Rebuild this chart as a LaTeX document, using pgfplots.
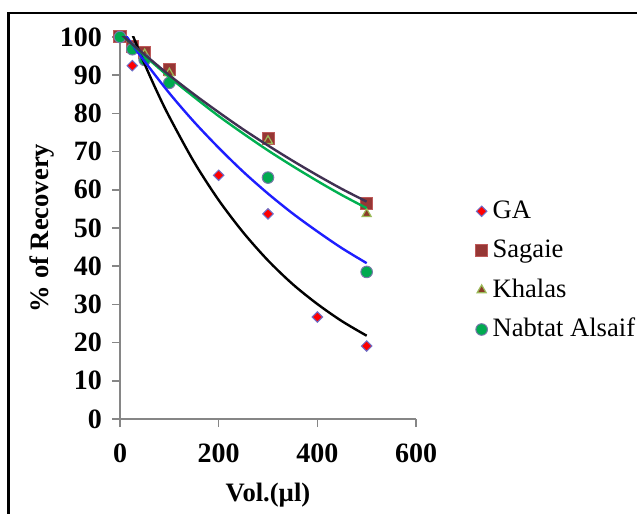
\documentclass[border=0pt]{standalone}
\usepackage{fontspec}
\setmainfont{Liberation Serif}
\usepackage{pgfplots}
\pgfplotsset{compat=1.18}

\definecolor{gared}{RGB}{255,0,0}
\definecolor{gaedge}{RGB}{110,110,200}
\definecolor{sagfill}{RGB}{150,55,53}
\definecolor{sagedge}{RGB}{190,90,90}
\definecolor{khafill}{RGB}{140,60,40}
\definecolor{khaedge}{RGB}{155,187,89}
\definecolor{nabfill}{RGB}{0,170,80}
\definecolor{nabedge}{RGB}{120,120,170}
\definecolor{trblue}{RGB}{30,30,255}
\definecolor{trgreen}{RGB}{0,176,80}
\definecolor{trdark}{RGB}{64,49,82}
\definecolor{axgray}{RGB}{134,134,134}

\begin{document}
\begin{tikzpicture}[font=\fontsize{13.3bp}{15bp}\selectfont]
% page: 637x514 px, 1px = 0.5bp, axis corner at the origin
\useasboundingbox (-60bp,-47.5bp) rectangle (258.5bp,209.5bp);
\draw[line width=1.3bp] (-55.65bp,-60bp) -- (-55.65bp,203bp) -- (270bp,203bp);
\begin{axis}[
    at={(0,0)}, anchor=south west,
    scale only axis,
    width=148bp, height=191bp,
    xmin=0, xmax=600, ymin=0, ymax=100,
    xtick={0,200,400,600},
    ytick={0,10,...,100},
    axis lines*=left,
    axis line style={axgray, line width=0.75bp},
    tick style={axgray, line width=0.75bp},
    tick align=outside,
    major tick length=4bp,
    clip mode=individual,
    /pgf/number format/assume math mode=true,
    ticklabel style={font=\fontsize{14bp}{16bp}\selectfont\bfseries},
    xticklabel style={yshift=-5bp},
    yticklabel style={xshift=-1.5bp},
    xlabel={\bfseries Vol.(µl)},
    ylabel={\bfseries \% of Recovery},
    label style={font=\fontsize{14bp}{16bp}\selectfont},
    every axis x label/.style={at={(axis description cs:0.5,-0.2)}, anchor=center},
    every axis y label/.style={at={(axis description cs:-0.262,0.5)}, rotate=90, anchor=center},
    legend style={at={(axis description cs:1.18,0.389)}, anchor=west, draw=none, fill=none,
        row sep=4.7bp, nodes={inner sep=1bp, text height=10bp, text depth=3bp},
        font=\fontsize{13.3bp}{15bp}\selectfont},
    legend cell align=left,
    legend image code/.code={\draw[#1] plot coordinates {(0cm,0cm)}; \path (0.15cm,0cm);},
]
% measured points
\addplot[only marks, mark=square*, mark size=1.85bp,
    mark options={rotate=45, fill=gared, draw=gaedge, line width=0.5bp}]
    coordinates {(25,92.5) (200,63.8) (300,53.7) (400,26.7) (500,19.1)};
\addlegendentry{GA}
\addplot[only marks, mark=square*, mark size=3bp,
    mark options={fill=sagfill, draw=sagedge, line width=0.5bp}]
    coordinates {(0,100) (25,97.5) (50,96) (100,91.5) (300,73.5) (500,56.3)};
\addlegendentry{Sagaie}
\addplot[only marks, mark=triangle*, mark size=2.6bp,
    mark options={fill=khafill, draw=khaedge, line width=0.6bp}]
    coordinates {(0,100) (25,97) (50,95.5) (100,90.5) (300,72.8) (500,53.7)};
\addlegendentry{Khalas}
\addplot[only marks, mark=*, mark size=2.9bp,
    mark options={fill=nabfill, draw=nabedge, line width=0.5bp}]
    coordinates {(0,100) (25,96.8) (50,94) (100,88) (300,63.2) (500,38.5)};
\addlegendentry{Nabtat Alsaif}
% trend lines
\addplot[forget plot, black, line width=1.2bp, smooth] coordinates {
    (25,100.7) (50,92.9) (75,85.7) (100,79.1) (150,67.3) (200,57.3) (250,48.8)
    (300,41.5) (350,35.3) (400,30.1) (450,25.6) (500,21.8)};
\addplot[forget plot, trblue, line width=1.2bp, smooth] coordinates {
    (0,102.6) (25,98.0) (50,93.6) (100,85.3) (150,77.8) (200,71.0) (250,64.7)
    (300,59.0) (350,53.8) (400,49.1) (450,44.7) (500,40.8)};
\addplot[forget plot, trgreen, line width=1.2bp, smooth] coordinates {
    (0,101.0) (25,98.0) (50,95.1) (100,89.5) (150,84.3) (200,79.3) (250,74.7)
    (300,70.3) (350,66.2) (400,62.3) (450,58.6) (500,55.2)};
\addplot[forget plot, trdark, line width=1.2bp, smooth] coordinates {
    (0,101.0) (25,98.1) (50,95.4) (100,90.0) (150,85.0) (200,80.3) (250,75.8)
    (300,71.6) (350,67.6) (400,63.8) (450,60.2) (500,56.9)};
\end{axis}
\end{tikzpicture}
\end{document}
